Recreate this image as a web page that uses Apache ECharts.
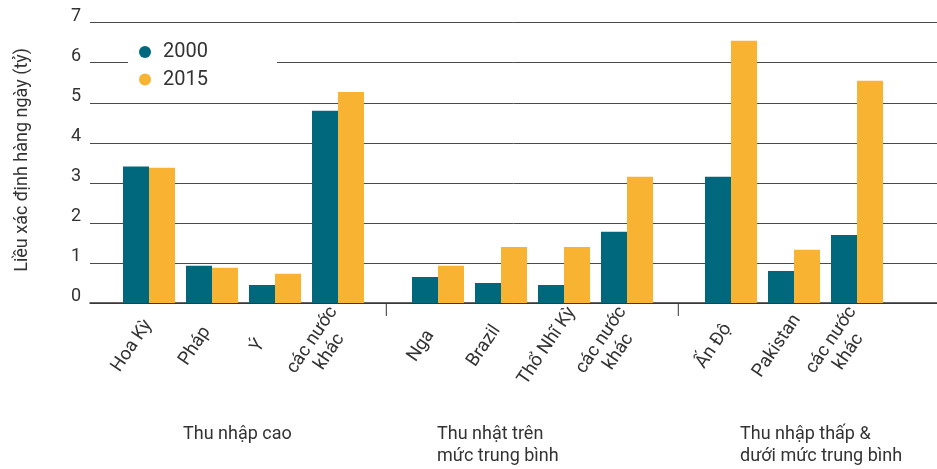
<!DOCTYPE html>
<html>
<head>
<meta charset="utf-8">
<style>
  html, body { margin: 0; padding: 0; background: #fff; }
  #chart { width: 937px; height: 469px; }
</style>
<script src="https://cdn.jsdelivr.net/npm/echarts@6/dist/echarts.min.js"></script>
</head>
<body>
<div id="chart"></div>
<script>
// Daily doses (billions) by country, grouped by income level
const highIncomeCountries = ['Hoa Kỳ', 'Pháp', 'Ý', 'các nước\nkhác'];
const highIncome2000 = [3.41, 0.93, 0.45, 4.80];
const highIncome2015 = [3.38, 0.88, 0.73, 5.27];

const upperMidCountries = ['Nga', 'Brazil', 'Thổ Nhĩ Kỳ', 'các nước\nkhác'];
const upperMid2000 = [0.65, 0.50, 0.45, 1.78];
const upperMid2015 = [0.93, 1.40, 1.40, 3.15];

const lowerCountries = ['Ấn Độ', 'Pakistan', 'các nước\nkhác'];
const lower2000 = [3.15, 0.80, 1.70];
const lower2015 = [6.55, 1.33, 5.55];

const yTicks = [0, 1, 2, 3, 4, 5, 6, 7];
const groupTitles = ['Thu nhập cao', 'Thu nhật trên\nmức trung bình', 'Thu nhập thấp &\ndưới mức trung bình'];
const yTitle = 'Liều xác định hàng ngày (tỷ)';

const TEAL = '#00687d';
const GOLD = '#f8b332';
const INK = '#333333';
const FONT = 'Roboto';

const TOP = 22.7, BOTTOM = 166;
const LABEL_SHIFT = 17;   // country names sit a little left of their bar pair

// one bar grid per income group, sharing the vertical scale
const barGrids = [
  { left: 117.5, width: 252, cats: highIncomeCountries, a: highIncome2000, b: highIncome2015 },
  { left: 406.5, width: 252, cats: upperMidCountries, a: upperMid2000, b: upperMid2015 },
  { left: 699.5, width: 189, cats: lowerCountries, a: lower2000, b: lower2015 }
];

const grid = [{ left: 90, right: 0, top: TOP, bottom: BOTTOM, outerBoundsMode: 'none', containLabel: false }];
const xAxis = [{
  gridIndex: 0, type: 'category', data: [''],
  axisLine: { show: true, lineStyle: { color: INK, width: 1.6 } },
  axisTick: { show: false }, axisLabel: { show: false }
}];
const yAxis = [{
  gridIndex: 0, type: 'value', min: yTicks[0], max: yTicks[yTicks.length - 1], interval: 1,
  name: yTitle, nameLocation: 'middle', nameRotate: 90, nameGap: 59,
  nameTextStyle: { fontFamily: FONT, fontSize: 18, color: INK, padding: [0, 0, 0, 6] },
  axisLine: { show: false }, axisTick: { show: false },
  axisLabel: {
    fontFamily: FONT, fontSize: 18, color: INK, margin: 9,
    verticalAlign: 'bottom', lineHeight: 13
  },
  splitLine: { show: true, lineStyle: { color: '#4a4a4a', width: 1 } }
}];
const series = [];

barGrids.forEach((g) => {
  // bars
  let gi = grid.length;
  grid.push({ left: g.left, width: g.width, top: TOP, bottom: BOTTOM, outerBoundsMode: 'none', containLabel: false });
  xAxis.push({
    gridIndex: gi, type: 'category', data: g.cats,
    axisLine: { show: false }, axisTick: { show: false }, axisLabel: { show: false }
  });
  yAxis.push({ gridIndex: gi, type: 'value', min: 0, max: 7, interval: 1, show: false, splitLine: { show: false } });
  series.push({
    name: '2000', type: 'bar', xAxisIndex: gi, yAxisIndex: gi,
    data: g.a, barWidth: 26, barGap: '0%',
    itemStyle: { color: TEAL }, emphasis: { disabled: true }
  });
  series.push({
    name: '2015', type: 'bar', xAxisIndex: gi, yAxisIndex: gi,
    data: g.b, barWidth: 26, barGap: '0%',
    itemStyle: { color: GOLD }, emphasis: { disabled: true }
  });

  // rotated country names on a matching category axis
  gi = grid.length;
  grid.push({ left: g.left - LABEL_SHIFT, width: g.width, top: TOP, bottom: BOTTOM, outerBoundsMode: 'none', containLabel: false });
  xAxis.push({
    gridIndex: gi, type: 'category', data: g.cats,
    axisLine: { show: false }, axisTick: { show: false },
    axisLabel: {
      interval: 0, rotate: 56, align: 'center', verticalAlign: 'middle',
      margin: 43, fontFamily: FONT, fontSize: 18.5, color: INK, lineHeight: 21
    }
  });
  yAxis.push({ gridIndex: gi, type: 'value', min: 0, max: 7, show: false, splitLine: { show: false } });
});

const chart = echarts.init(document.getElementById('chart'), null, { renderer: 'canvas' });
chart.setOption({
  animation: false,
  backgroundColor: '#fff',
  textStyle: { fontFamily: FONT },
  grid, xAxis, yAxis, series,
  legend: {
    data: ['2000', '2015'],
    orient: 'vertical',
    left: 128, top: 36,
    padding: [6, 69, 6, 11],
    backgroundColor: '#fff',
    icon: 'circle', itemWidth: 12, itemHeight: 12, itemGap: 7.6,
    textStyle: { fontFamily: FONT, fontSize: 20, color: INK, lineHeight: 20, padding: [0, 0, 0, 7] },
    selectedMode: false
  },
  graphic: [
    { type: 'line', shape: { x1: 386.3, y1: 303, x2: 386.3, y2: 316 }, style: { stroke: INK, lineWidth: 1 } },
    { type: 'line', shape: { x1: 678.3, y1: 303, x2: 678.3, y2: 316 }, style: { stroke: INK, lineWidth: 1 } },
    { type: 'text', left: 183, top: 423, style: { text: groupTitles[0], font: '18px Roboto', fill: INK, lineHeight: 22 } },
    { type: 'text', left: 437, top: 423, style: { text: groupTitles[1], font: '18px Roboto', fill: INK, lineHeight: 22 } },
    { type: 'text', left: 740, top: 423, style: { text: groupTitles[2], font: '18px Roboto', fill: INK, lineHeight: 22 } }
  ]
});
</script>
</body>
</html>
